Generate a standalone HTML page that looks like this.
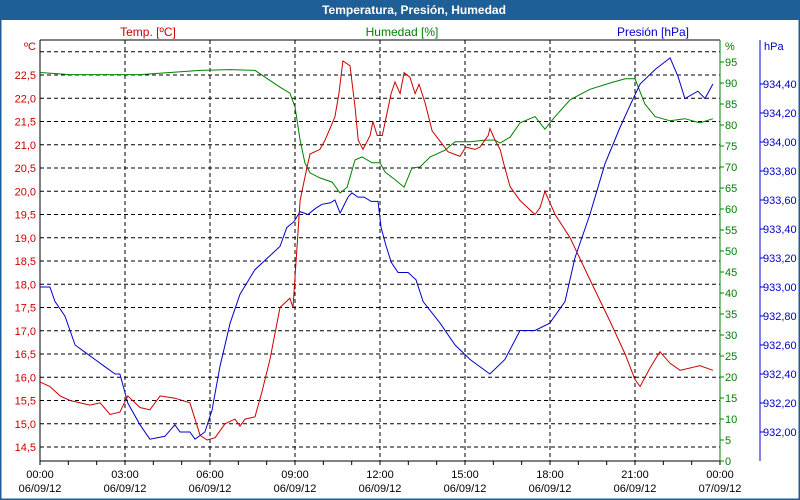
<!DOCTYPE html>
<html><head><meta charset="utf-8"><style>
html,body{margin:0;padding:0;background:#fff;}
#wrap{position:relative;width:800px;height:500px;overflow:hidden;font-family:"Liberation Sans",Tahoma,sans-serif;}
</style></head><body>
<div id="wrap">
<svg id="chart" width="800" height="500" xmlns="http://www.w3.org/2000/svg"></svg>
</div>
<script>
const tempHours=[0,0.35,0.71,1.06,1.76,2.12,2.47,2.82,3.1,3.53,3.88,4.24,4.76,5.29,5.65,5.9,6.18,6.53,6.88,7.06,7.24,7.59,7.84,8.12,8.47,8.82,8.93,9.05,9.18,9.35,9.53,9.88,10.06,10.27,10.41,10.55,10.69,10.94,11.12,11.23,11.4,11.65,11.75,11.9,12.08,12.29,12.39,12.53,12.71,12.85,13.06,13.24,13.38,13.59,13.84,14.09,14.4,14.82,15.03,15.35,15.53,15.82,15.88,16.06,16.24,16.41,16.59,16.94,17.29,17.47,17.65,17.82,18.18,18.71,19.41,20.12,20.65,21.0,21.18,21.53,21.88,22.24,22.59,23.29,23.75];
const tempValues=[15.9,15.8,15.6,15.5,15.4,15.45,15.2,15.25,15.6,15.35,15.3,15.6,15.55,15.45,14.75,14.65,14.7,15.0,15.1,14.95,15.1,15.15,15.7,16.4,17.5,17.7,17.5,18.6,19.8,20.3,20.8,20.9,21.1,21.4,21.6,22.1,22.8,22.7,21.8,21.1,20.9,21.2,21.5,21.2,21.2,21.8,22.1,22.35,22.1,22.55,22.45,22.1,22.3,21.9,21.3,21.1,20.85,20.75,20.95,20.9,20.95,21.2,21.35,21.1,20.9,20.5,20.1,19.8,19.6,19.5,19.65,20.0,19.5,19.0,18.1,17.2,16.5,15.95,15.8,16.2,16.55,16.3,16.15,16.25,16.15];
const humHours=[0,1.06,2.12,3.0,3.53,4.59,5.65,6.71,7.59,8.47,8.82,9.0,9.18,9.35,9.53,9.88,10.31,10.59,10.84,11.12,11.37,11.72,12.0,12.18,12.53,12.85,13.13,13.41,13.77,14.29,14.65,15.18,15.71,16.06,16.24,16.59,16.94,17.47,17.82,18.18,18.71,19.41,20.12,20.65,21.0,21.35,21.71,22.24,22.76,23.29,23.75];
const humValues=[92.5,92,92,92,92,92.5,93,93.2,93,89,87.6,84.3,76.4,71,68.6,67.4,66.4,63.8,65.2,71.7,72.4,71,71,68.8,67,65.2,69.8,70,72.4,74,76,76,76.4,76.4,75.7,77.1,80.5,82,79,82,86,88.5,90,91,91,85,82,81,81.5,80.5,81.5];
const presHours=[0,0.35,0.53,0.88,1.24,1.59,1.94,2.29,2.65,2.82,3.1,3.53,3.88,4.41,4.76,4.94,5.29,5.47,5.82,6.07,6.35,6.71,7.06,7.59,8.47,8.71,8.96,9.18,9.46,9.71,9.95,10.24,10.41,10.59,10.87,11.01,11.22,11.44,11.69,11.93,12.04,12.22,12.4,12.64,12.99,13.27,13.52,14.12,14.65,15.18,15.88,16.41,16.94,17.47,17.99,18.53,18.88,19.41,19.94,20.47,20.82,21.18,21.71,22.24,22.52,22.76,23.22,23.47,23.75];
const presValues=[933.0,933.0,932.9,932.8,932.6,932.55,932.5,932.45,932.4,932.4,932.2,932.05,931.95,931.97,932.05,932.0,932.0,931.95,932.0,932.15,932.45,932.75,932.95,933.12,933.28,933.41,933.45,933.52,933.5,933.54,933.57,933.58,933.6,933.51,933.62,933.65,933.62,933.62,933.59,933.59,933.41,933.28,933.17,933.1,933.1,933.05,932.9,932.75,932.6,932.5,932.4,932.5,932.7,932.7,932.75,932.9,933.2,933.5,933.85,934.1,934.25,934.4,934.5,934.58,934.45,934.3,934.35,934.3,934.4];
const timeLabels=["00:00","03:00","06:00","09:00","12:00","15:00","18:00","21:00","00:00"];
const dateLabels=["06/09/12","06/09/12","06/09/12","06/09/12","06/09/12","06/09/12","06/09/12","06/09/12","07/09/12"];
const tempTicks=["14,5","15,0","15,5","16,0","16,5","17,0","17,5","18,0","18,5","19,0","19,5","20,0","20,5","21,0","21,5","22,0","22,5"];
const humTicks=[0,5,10,15,20,25,30,35,40,45,50,55,60,65,70,75,80,85,90,95];
const presTicks=["932,00","932,20","932,40","932,60","932,80","933,00","933,20","933,40","933,60","933,80","934,00","934,20","934,40"];

const X0=40,X1=720,Y0=40,Y1=461;
const xS=h=>X0+h*(X1-X0)/24;
const yT=v=>75+(22.5-v)*46.5;
const yH=v=>461-v*4.2;
const yP=v=>84+(934.4-v)*145;
const svg=document.getElementById('chart');
const NS="http://www.w3.org/2000/svg";
function mk(tag,at,name,txt){const e=document.createElementNS(NS,tag);for(const k in at)e.setAttribute(k,at[k]);


if(txt!==undefined)e.textContent=txt;svg.appendChild(e);return e;}
const F='"Liberation Sans",Tahoma,sans-serif';
mk('rect',{x:0,y:0,width:800,height:500,fill:'#fff',stroke:'#1f5d96','stroke-width':3},'chart-frame');
mk('rect',{x:0,y:0,width:800,height:20,fill:'#1f5f98'},'title-bar');
mk('text',{x:414,y:14,'text-anchor':'middle','font-family':F,'font-size':12,'font-weight':'bold',fill:'#fff'},'chart-title','Temperatura, Presión, Humedad');
mk('text',{x:148,y:36,'text-anchor':'middle','font-family':F,'font-size':12,fill:'#cc0000'},'temp-legend','Temp. [ºC]');
mk('text',{x:402,y:36,'text-anchor':'middle','font-family':F,'font-size':12,fill:'#008000'},'humidity-legend','Humedad [%]');
mk('text',{x:653,y:36,'text-anchor':'middle','font-family':F,'font-size':12,fill:'#0000cc'},'pressure-legend','Presión [hPa]');
for(let v=14.5;v<=23.01;v+=0.5){mk('line',{x1:X0,x2:X1,y1:yT(v),y2:yT(v),stroke:'#000','stroke-dasharray':'4,3'},'h-grid-line');}
for(let i=1;i<8;i++){mk('line',{x1:xS(i*3),x2:xS(i*3),y1:Y0,y2:Y1,stroke:'#000','stroke-dasharray':'4,3'},'v-grid-line');}
mk('line',{x1:X0,x2:X1,y1:Y0,y2:Y0,stroke:'#000'},'plot-top');
mk('line',{x1:X0,x2:X0,y1:Y0,y2:Y1+3},'temp-axis-line').setAttribute('stroke','#000');
mk('line',{x1:X0,x2:X1,y1:Y1,y2:Y1,stroke:'#000'},'x-axis-line');
mk('line',{x1:X1,x2:X1,y1:Y0,y2:Y1,stroke:'#008000'},'humidity-axis-line');
mk('line',{x1:760,x2:760,y1:Y0,y2:Y1,stroke:'#0000cc'},'pressure-axis-line');
for(let i=0;i<=24;i++){mk('line',{x1:xS(i),x2:xS(i),y1:Y1,y2:Y1+4,stroke:'#000'},'x-tick');}
timeLabels.forEach((t,i)=>{mk('text',{x:xS(i*3),y:478,'text-anchor':'middle','font-family':F,'font-size':11,fill:'#000'},'x-tick-label',t);
mk('text',{x:xS(i*3),y:492,'text-anchor':'middle','font-family':F,'font-size':11,fill:'#000'},'x-date-label',dateLabels[i]);});
tempTicks.forEach(t=>{const v=parseFloat(t.replace(',','.'));mk('text',{x:36,y:yT(v)+4,'text-anchor':'end','font-family':F,'font-size':11,fill:'#cc0000'},'temp-tick-label',t);});
mk('text',{x:36,y:50,'text-anchor':'end','font-family':F,'font-size':11,fill:'#cc0000'},'temp-unit','ºC');
humTicks.forEach(v=>{mk('line',{x1:X1,x2:X1+4,y1:yH(v),y2:yH(v),stroke:'#008000'},'humidity-tick');
mk('text',{x:725,y:yH(v)+4,'font-family':F,'font-size':11,fill:'#008000'},'humidity-tick-label',String(v));});
mk('text',{x:725,y:50,'font-family':F,'font-size':11,fill:'#008000'},'humidity-unit','%');
presTicks.forEach(t=>{const v=parseFloat(t.replace(',','.'));mk('line',{x1:760,x2:764,y1:yP(v),y2:yP(v),stroke:'#0000cc'},'pressure-tick');
mk('text',{x:763,y:yP(v)+4,'font-family':F,'font-size':11,fill:'#0000cc'},'pressure-tick-label',t);});
mk('text',{x:764,y:50,'font-family':F,'font-size':11,fill:'#0000cc'},'pressure-unit','hPa');
function line(hs,vs,ys,col,name){mk('polyline',{points:hs.map((h,i)=>xS(h).toFixed(1)+','+ys(vs[i]).toFixed(1)).join(' '),fill:'none',stroke:col,'stroke-width':1},name);}
line(humHours,humValues,yH,'#008000','humidity-line');
line(presHours,presValues,yP,'#0000cc','pressure-line');
line(tempHours,tempValues,yT,'#cc0000','temperature-line');
</script>
</body></html>
